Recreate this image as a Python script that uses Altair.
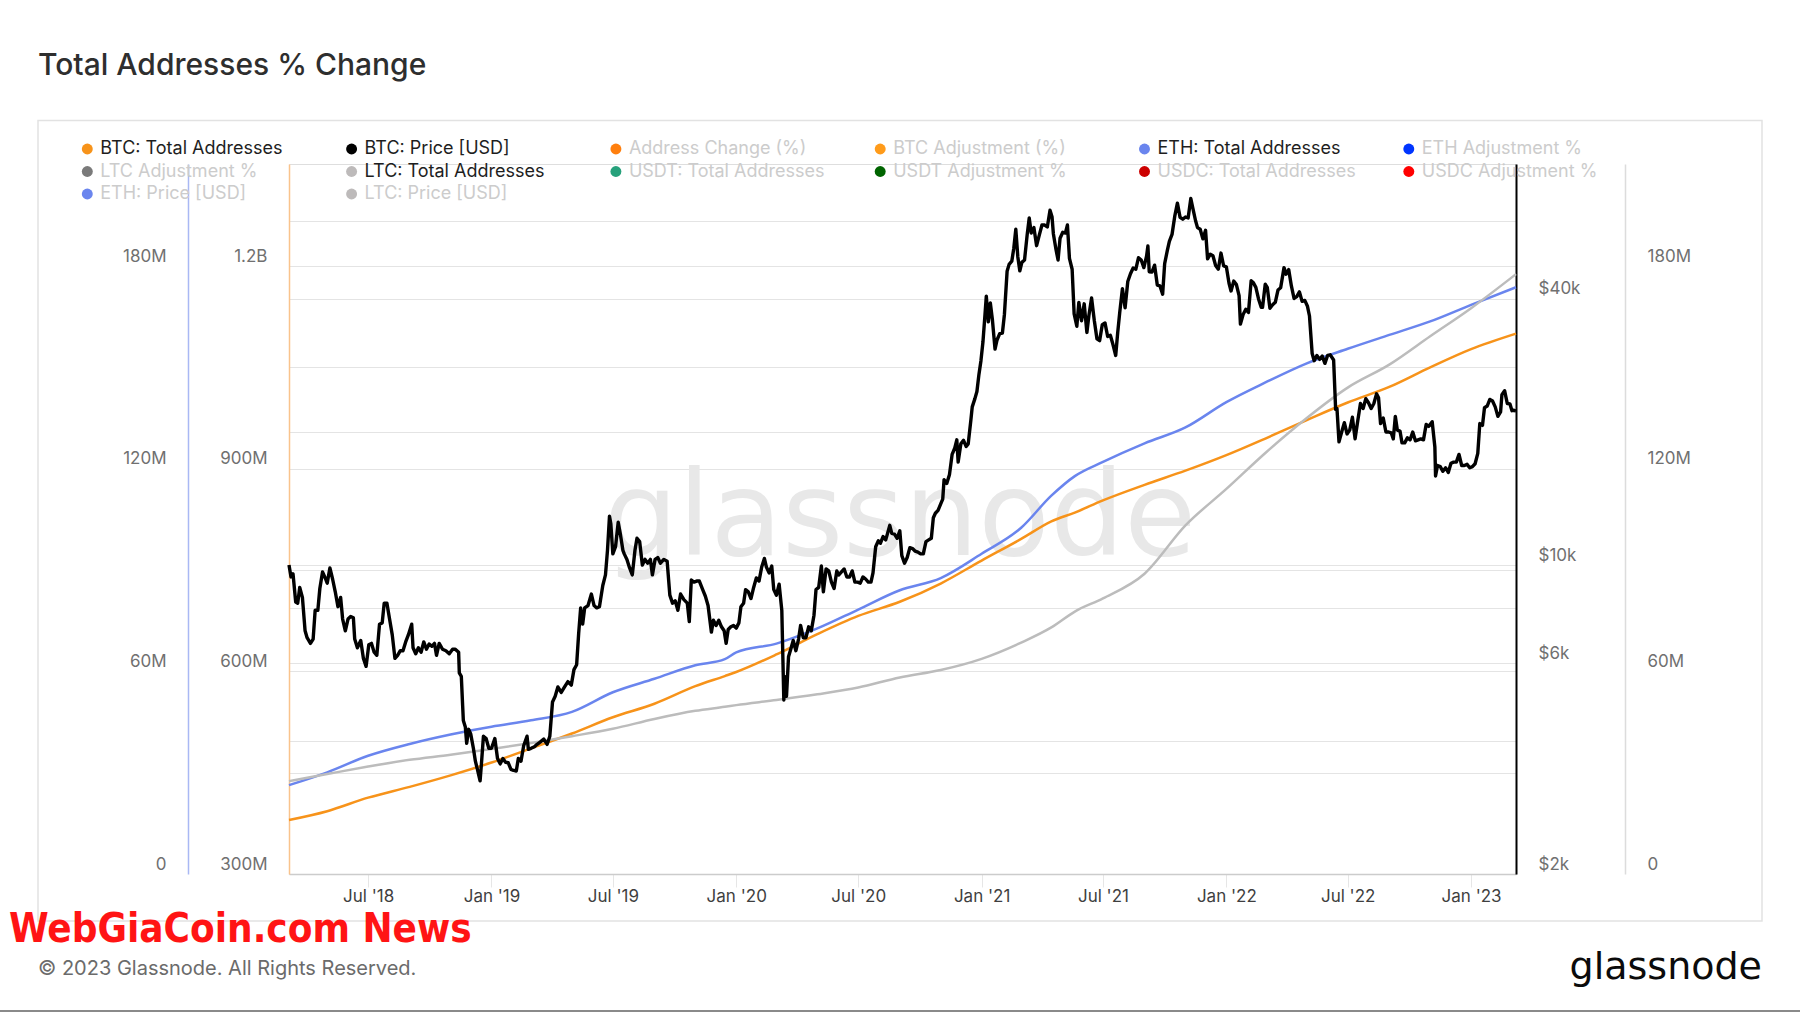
import json
import altair as alt
import pandas as pd

# ---------------- data ----------------
addr_dates = [
    "2018-03-05", "2018-05-01", "2018-07-01", "2018-09-01", "2018-11-01", "2019-01-01",
    "2019-03-01", "2019-05-01", "2019-07-01", "2019-09-01", "2019-11-01", "2019-12-15",
    "2020-01-01", "2020-03-01", "2020-05-01", "2020-07-01", "2020-09-01", "2020-11-01",
    "2021-01-01", "2021-03-01", "2021-04-15", "2021-05-20", "2021-07-01", "2021-09-01",
    "2021-11-01", "2022-01-01", "2022-03-01", "2022-05-01", "2022-07-01", "2022-09-01",
    "2022-11-01", "2023-01-01", "2023-03-09",
]
btc_total_addresses_m = [
    380, 393, 413, 429, 446, 465, 486, 508, 532, 552, 578, 593,
    599, 625, 655, 682, 703, 730, 764, 796, 822, 835, 853, 876,
    897, 920, 945, 972, 998, 1021, 1050, 1077, 1100,
]
eth_total_addresses_m = [
    26.3, 30.1, 35.0, 38.5, 41.3, 43.6, 45.5, 48.0, 53.8, 57.8, 61.8, 63.6,
    65.6, 68.2, 72.7, 78.3, 84.0, 87.6, 94.8, 102.5, 112.0, 117.8, 122.0, 127.5,
    132.2, 139.7, 145.6, 151.2, 155.5, 159.6, 163.6, 168.5, 173.7,
]
ltc_total_addresses_m = [
    27.5, 29.6, 31.8, 33.8, 35.3, 37.0, 38.8, 40.8, 43.0, 45.9, 48.3, 49.5,
    50.0, 51.5, 53.2, 55.2, 58.2, 60.4, 63.7, 68.5, 73.0, 77.7, 81.6, 88.9,
    103.2, 114.0, 124.8, 135.0, 144.0, 150.8, 159.2, 167.5, 177.6,
]

btc_price_points = [
    ("2018-03-05", 10000), ("2018-03-08", 9400), ("2018-03-11", 9550), ("2018-03-15", 8250),
    ("2018-03-18", 8200), ("2018-03-21", 8900), ("2018-03-25", 8450), ("2018-03-29", 7100),
    ("2018-04-01", 6850), ("2018-04-06", 6650), ("2018-04-10", 6800), ("2018-04-13", 7900),
    ("2018-04-17", 7900), ("2018-04-20", 8850), ("2018-04-24", 9650), ("2018-04-28", 9350),
    ("2018-05-01", 9100), ("2018-05-05", 9850), ("2018-05-09", 9300), ("2018-05-13", 8700),
    ("2018-05-17", 8050), ("2018-05-21", 8450), ("2018-05-24", 7550), ("2018-05-28", 7100),
    ("2018-06-01", 7550), ("2018-06-05", 7650), ("2018-06-09", 7600), ("2018-06-11", 6800),
    ("2018-06-15", 6500), ("2018-06-20", 6750), ("2018-06-24", 6150), ("2018-06-28", 5900),
    ("2018-07-02", 6600), ("2018-07-06", 6650), ("2018-07-10", 6350), ("2018-07-14", 6250),
    ("2018-07-18", 7350), ("2018-07-22", 7400), ("2018-07-25", 8200), ("2018-07-29", 8200),
    ("2018-08-02", 7550), ("2018-08-06", 6950), ("2018-08-10", 6150), ("2018-08-14", 6250),
    ("2018-08-18", 6400), ("2018-08-22", 6400), ("2018-08-26", 6700), ("2018-08-30", 6950),
    ("2018-09-04", 7350), ("2018-09-06", 6500), ("2018-09-10", 6300), ("2018-09-14", 6500),
    ("2018-09-18", 6350), ("2018-09-22", 6700), ("2018-09-26", 6450), ("2018-09-30", 6630),
    ("2018-10-04", 6550), ("2018-10-08", 6650), ("2018-10-11", 6250), ("2018-10-15", 6650),
    ("2018-10-20", 6450), ("2018-10-25", 6400), ("2018-10-30", 6300), ("2018-11-04", 6450),
    ("2018-11-08", 6450), ("2018-11-13", 6350), ("2018-11-14", 5700), ("2018-11-17", 5600),
    ("2018-11-19", 4800), ("2018-11-20", 4450), ("2018-11-23", 4300), ("2018-11-25", 3950),
    ("2018-11-28", 4250), ("2018-12-01", 4150), ("2018-12-05", 3850), ("2018-12-08", 3600),
    ("2018-12-11", 3450), ("2018-12-15", 3250), ("2018-12-17", 3550), ("2018-12-20", 4100),
    ("2018-12-24", 4050), ("2018-12-28", 3850), ("2019-01-01", 3850), ("2019-01-06", 4050),
    ("2019-01-10", 3650), ("2019-01-14", 3550), ("2019-01-18", 3650), ("2019-01-22", 3580),
    ("2019-01-26", 3570), ("2019-01-30", 3450), ("2019-02-03", 3430), ("2019-02-07", 3420),
    ("2019-02-10", 3650), ("2019-02-14", 3600), ("2019-02-18", 3900), ("2019-02-23", 4100),
    ("2019-02-25", 3830), ("2019-03-01", 3850), ("2019-03-06", 3880), ("2019-03-10", 3930),
    ("2019-03-15", 3980), ("2019-03-20", 4040), ("2019-03-25", 3930), ("2019-03-29", 4100),
    ("2019-04-02", 4900), ("2019-04-06", 5050), ("2019-04-10", 5300), ("2019-04-15", 5150),
    ("2019-04-20", 5300), ("2019-04-25", 5450), ("2019-04-30", 5350), ("2019-05-04", 5800),
    ("2019-05-08", 5950), ("2019-05-11", 7000), ("2019-05-14", 8000), ("2019-05-17", 7350),
    ("2019-05-20", 8000), ("2019-05-25", 8100), ("2019-05-30", 8600), ("2019-06-03", 8100),
    ("2019-06-07", 8000), ("2019-06-11", 8050), ("2019-06-16", 8990), ("2019-06-20", 9500),
    ("2019-06-23", 10800), ("2019-06-26", 12900), ("2019-06-28", 12400), ("2019-07-01", 10600),
    ("2019-07-05", 11000), ("2019-07-09", 12500), ("2019-07-12", 11800), ("2019-07-16", 10800),
    ("2019-07-18", 10600), ("2019-07-22", 10300), ("2019-07-26", 9850), ("2019-07-30", 9500),
    ("2019-08-03", 10800), ("2019-08-06", 11500), ("2019-08-10", 11300), ("2019-08-14", 10000),
    ("2019-08-18", 10300), ("2019-08-22", 10100), ("2019-08-26", 10300), ("2019-08-29", 9500),
    ("2019-09-02", 10300), ("2019-09-06", 10400), ("2019-09-10", 10100), ("2019-09-15", 10300),
    ("2019-09-20", 10200), ("2019-09-24", 8550), ("2019-09-28", 8200), ("2019-10-02", 8300),
    ("2019-10-06", 7900), ("2019-10-10", 8600), ("2019-10-15", 8350), ("2019-10-20", 8200),
    ("2019-10-23", 7450), ("2019-10-26", 9250), ("2019-10-30", 9150), ("2019-11-03", 9200),
    ("2019-11-07", 9200), ("2019-11-12", 8800), ("2019-11-16", 8500), ("2019-11-20", 8100),
    ("2019-11-25", 7050), ("2019-11-28", 7500), ("2019-12-02", 7300), ("2019-12-06", 7500),
    ("2019-12-10", 7250), ("2019-12-14", 7100), ("2019-12-17", 6650), ("2019-12-20", 7150),
    ("2019-12-24", 7250), ("2019-12-28", 7300), ("2020-01-01", 7200), ("2020-01-05", 7400),
    ("2020-01-08", 8050), ("2020-01-12", 8200), ("2020-01-15", 8800), ("2020-01-19", 8700),
    ("2020-01-23", 8400), ("2020-01-27", 8900), ("2020-01-31", 9350), ("2020-02-04", 9200),
    ("2020-02-08", 9900), ("2020-02-12", 10350), ("2020-02-15", 9900), ("2020-02-19", 9600),
    ("2020-02-23", 9950), ("2020-02-26", 8800), ("2020-03-01", 8550), ("2020-03-05", 9050),
    ("2020-03-09", 7900), ("2020-03-12", 4950), ("2020-03-13", 5600), ("2020-03-16", 5050),
    ("2020-03-19", 6200), ("2020-03-23", 6500), ("2020-03-26", 6750), ("2020-03-30", 6400),
    ("2020-04-03", 6800), ("2020-04-06", 7300), ("2020-04-10", 6850), ("2020-04-14", 6850),
    ("2020-04-18", 7250), ("2020-04-22", 7100), ("2020-04-26", 7700), ("2020-04-29", 8800),
    ("2020-05-03", 8900), ("2020-05-07", 9950), ("2020-05-10", 8700), ("2020-05-14", 9800),
    ("2020-05-18", 9700), ("2020-05-22", 9150), ("2020-05-26", 8850), ("2020-05-30", 9700),
    ("2020-06-02", 9500), ("2020-06-06", 9650), ("2020-06-10", 9800), ("2020-06-14", 9400),
    ("2020-06-18", 9400), ("2020-06-22", 9700), ("2020-06-26", 9150), ("2020-06-30", 9150),
    ("2020-07-04", 9100), ("2020-07-08", 9400), ("2020-07-12", 9300), ("2020-07-16", 9150),
    ("2020-07-20", 9150), ("2020-07-23", 9600), ("2020-07-27", 11000), ("2020-07-31", 11350),
    ("2020-08-03", 11200), ("2020-08-07", 11600), ("2020-08-11", 11400), ("2020-08-17", 12300),
    ("2020-08-20", 11800), ("2020-08-24", 11750), ("2020-08-28", 11500), ("2020-09-01", 11950),
    ("2020-09-04", 10500), ("2020-09-08", 10100), ("2020-09-12", 10400), ("2020-09-16", 10950),
    ("2020-09-20", 10900), ("2020-09-24", 10750), ("2020-09-28", 10700), ("2020-10-02", 10600),
    ("2020-10-06", 10600), ("2020-10-10", 11300), ("2020-10-14", 11400), ("2020-10-18", 11500),
    ("2020-10-21", 12800), ("2020-10-24", 13100), ("2020-10-28", 13300), ("2020-11-01", 13750),
    ("2020-11-04", 14100), ("2020-11-06", 15600), ("2020-11-10", 15300), ("2020-11-14", 16000),
    ("2020-11-18", 17800), ("2020-11-22", 18400), ("2020-11-25", 19200), ("2020-11-27", 17100),
    ("2020-12-01", 18800), ("2020-12-05", 19150), ("2020-12-09", 18550), ("2020-12-12", 18800),
    ("2020-12-16", 21300), ("2020-12-18", 22800), ("2020-12-22", 23800), ("2020-12-25", 24700),
    ("2020-12-28", 27000), ("2020-12-31", 29000), ("2021-01-03", 32000), ("2021-01-06", 36800),
    ("2021-01-08", 40600), ("2021-01-11", 35500), ("2021-01-14", 39200), ("2021-01-17", 36000),
    ("2021-01-21", 30800), ("2021-01-24", 32300), ("2021-01-28", 33400), ("2021-02-01", 33500),
    ("2021-02-04", 36900), ("2021-02-08", 46200), ("2021-02-11", 47900), ("2021-02-15", 48700),
    ("2021-02-18", 52100), ("2021-02-21", 57500), ("2021-02-24", 49800), ("2021-02-27", 46300),
    ("2021-03-02", 48400), ("2021-03-06", 49000), ("2021-03-10", 56000), ("2021-03-13", 61000),
    ("2021-03-16", 56400), ("2021-03-20", 58000), ("2021-03-24", 52800), ("2021-03-28", 55800),
    ("2021-04-01", 58800), ("2021-04-05", 58800), ("2021-04-09", 58200), ("2021-04-13", 63500),
    ("2021-04-16", 61400), ("2021-04-18", 56200), ("2021-04-22", 51700), ("2021-04-25", 49000),
    ("2021-04-28", 54900), ("2021-05-02", 56600), ("2021-05-06", 56400), ("2021-05-09", 58800),
    ("2021-05-12", 49400), ("2021-05-16", 46700), ("2021-05-19", 37000), ("2021-05-23", 34700),
    ("2021-05-26", 39300), ("2021-05-30", 35700), ("2021-06-03", 39000), ("2021-06-07", 33600),
    ("2021-06-10", 36700), ("2021-06-14", 40200), ("2021-06-18", 35800), ("2021-06-22", 32500),
    ("2021-06-26", 32200), ("2021-06-30", 35000), ("2021-07-04", 35300), ("2021-07-08", 32900),
    ("2021-07-12", 33100), ("2021-07-16", 31500), ("2021-07-20", 29800), ("2021-07-23", 33600),
    ("2021-07-26", 37300), ("2021-07-30", 42200), ("2021-08-03", 38200), ("2021-08-07", 43800),
    ("2021-08-11", 45600), ("2021-08-15", 47000), ("2021-08-19", 46700), ("2021-08-23", 49600),
    ("2021-08-27", 49000), ("2021-08-31", 47100), ("2021-09-04", 50000), ("2021-09-06", 52700),
    ("2021-09-08", 46100), ("2021-09-12", 46000), ("2021-09-16", 47700), ("2021-09-20", 43000),
    ("2021-09-24", 42800), ("2021-09-28", 41000), ("2021-10-01", 48100), ("2021-10-05", 51500),
    ("2021-10-08", 54000), ("2021-10-12", 56000), ("2021-10-16", 61500), ("2021-10-20", 65900),
    ("2021-10-24", 61200), ("2021-10-28", 60600), ("2021-11-01", 61300), ("2021-11-05", 61000),
    ("2021-11-09", 67500), ("2021-11-12", 64200), ("2021-11-16", 60200), ("2021-11-19", 58000),
    ("2021-11-23", 57500), ("2021-11-27", 54700), ("2021-12-01", 57200), ("2021-12-04", 49300),
    ("2021-12-08", 50500), ("2021-12-12", 50100), ("2021-12-16", 47600), ("2021-12-20", 46700),
    ("2021-12-24", 50800), ("2021-12-28", 47500), ("2022-01-01", 47300), ("2022-01-05", 43400),
    ("2022-01-08", 41700), ("2022-01-12", 43900), ("2022-01-16", 43100), ("2022-01-20", 40700),
    ("2022-01-22", 35100), ("2022-01-26", 36900), ("2022-01-30", 37900), ("2022-02-03", 37300),
    ("2022-02-07", 44000), ("2022-02-10", 43600), ("2022-02-14", 42500), ("2022-02-18", 40000),
    ("2022-02-22", 38300), ("2022-02-24", 38300), ("2022-02-28", 43200), ("2022-03-03", 42500),
    ("2022-03-07", 38100), ("2022-03-11", 38800), ("2022-03-15", 39300), ("2022-03-19", 41900),
    ("2022-03-23", 42400), ("2022-03-28", 47100), ("2022-03-31", 45500), ("2022-04-04", 46600),
    ("2022-04-08", 42800), ("2022-04-12", 40100), ("2022-04-16", 40500), ("2022-04-20", 41500),
    ("2022-04-24", 39500), ("2022-04-28", 39700), ("2022-05-02", 38500), ("2022-05-05", 36600),
    ("2022-05-09", 30100), ("2022-05-12", 29000), ("2022-05-16", 29800), ("2022-05-20", 29200),
    ("2022-05-24", 29700), ("2022-05-28", 28600), ("2022-06-01", 29800), ("2022-06-05", 29900),
    ("2022-06-10", 29100), ("2022-06-13", 22500), ("2022-06-15", 22600), ("2022-06-18", 19000),
    ("2022-06-22", 20000), ("2022-06-26", 21000), ("2022-06-30", 19800), ("2022-07-04", 20200),
    ("2022-07-08", 21600), ("2022-07-12", 19300), ("2022-07-16", 21200), ("2022-07-20", 23200),
    ("2022-07-24", 22600), ("2022-07-28", 23800), ("2022-08-01", 23300), ("2022-08-05", 22600),
    ("2022-08-09", 23200), ("2022-08-13", 24400), ("2022-08-16", 23900), ("2022-08-19", 20900),
    ("2022-08-23", 21500), ("2022-08-27", 20000), ("2022-08-31", 20000), ("2022-09-04", 19900),
    ("2022-09-07", 19300), ("2022-09-10", 21700), ("2022-09-13", 20200), ("2022-09-17", 20100),
    ("2022-09-20", 18900), ("2022-09-24", 18900), ("2022-09-28", 19400), ("2022-10-02", 19200),
    ("2022-10-06", 20000), ("2022-10-10", 19100), ("2022-10-14", 19200), ("2022-10-18", 19300),
    ("2022-10-22", 19200), ("2022-10-26", 20800), ("2022-10-30", 20600), ("2022-11-04", 21100),
    ("2022-11-08", 18500), ("2022-11-09", 15900), ("2022-11-12", 16800), ("2022-11-16", 16700),
    ("2022-11-20", 16300), ("2022-11-24", 16600), ("2022-11-28", 16200), ("2022-12-02", 17000),
    ("2022-12-06", 17100), ("2022-12-10", 17100), ("2022-12-14", 17800), ("2022-12-18", 16800),
    ("2022-12-22", 16800), ("2022-12-26", 16900), ("2022-12-30", 16600), ("2023-01-03", 16700),
    ("2023-01-07", 16950), ("2023-01-11", 17900), ("2023-01-14", 20900), ("2023-01-18", 20700),
    ("2023-01-21", 22700), ("2023-01-25", 22900), ("2023-01-29", 23700), ("2023-02-02", 23500),
    ("2023-02-06", 22800), ("2023-02-10", 21700), ("2023-02-14", 22200), ("2023-02-16", 24300),
    ("2023-02-20", 24800), ("2023-02-24", 23200), ("2023-02-28", 23150), ("2023-03-03", 22350),
    ("2023-03-06", 22400), ("2023-03-09", 22300),
]

legend_labels = [
    "BTC: Total Addresses", "BTC: Price [USD]", "Address Change (%)", "BTC Adjustment (%)",
    "ETH: Total Addresses", "ETH Adjustment %",
    "LTC Adjustment %", "LTC: Total Addresses", "USDT: Total Addresses", "USDT Adjustment %",
    "USDC: Total Addresses", "USDC Adjustment %",
    "ETH: Price [USD]", "LTC: Price [USD]",
]
legend_colors = [
    "#f7931a", "#000000", "#ff7f0e", "#ff9b1a", "#6a85ee", "#0035ff",
    "#7a7a7a", "#bdbaba", "#26a17b", "#006400", "#cc0000", "#ff0000",
    "#6a85ee", "#bdbaba",
]
legend_active = [True, True, False, False, True, False,
                 False, True, False, False, False, False,
                 False, False]

x_domain_dates = ["2018-03-05", "2023-03-09"]
x_tick_dates = ["2018-07-01", "2019-01-01", "2019-07-01", "2020-01-01", "2020-07-01",
                "2021-01-01", "2021-07-01", "2022-01-01", "2022-07-01", "2023-01-01"]
x_tick_labels = ["Jul '18", "Jan '19", "Jul '19", "Jan '20", "Jul '20",
                 "Jan '21", "Jul '21", "Jan '22", "Jul '22", "Jan '23"]

btc_addr_domain = [300, 1351]
btc_addr_ticks = [300, 450, 600, 750, 900, 1050, 1200]
btc_addr_tick_labels = ["300M", "", "600M", "", "900M", "", "1.2B"]

small_addr_domain = [0, 210.2]
small_addr_ticks = [0, 60, 120, 180]
small_addr_tick_labels = ["0", "60M", "120M", "180M"]

price_domain = [2000, 80800]
price_ticks = [2000, 4000, 6000, 8000, 10000, 20000, 40000, 60000]
price_tick_labels = ["$2k", "", "$6k", "", "$10k", "", "$40k", ""]

# ---------------- helpers ----------------
def ms(d):
    return int(pd.Timestamp(d, tz="UTC").value // 10**6)


def label_expr(values, labels, key="datum.value"):
    parts = [f"{key} == {v} ? {json.dumps(l)}" for v, l in zip(values, labels)]
    return " : ".join(parts) + " : ''"


FONT = "Inter"
W, H = 1227, 710
PAD_L, PAD_T = 289, 164

addr_df = pd.DataFrame({
    "date": addr_dates,
    "btc": btc_total_addresses_m,
    "eth": eth_total_addresses_m,
    "ltc": ltc_total_addresses_m,
})
price_df = pd.DataFrame(btc_price_points, columns=["date", "price"])

x_ticks_ms = [ms(d) for d in x_tick_dates]
x_axis = alt.Axis(
    values=x_ticks_ms,
    labelExpr=label_expr(x_ticks_ms, x_tick_labels, key="time(datum.value)"),
    title=None, grid=False, ticks=True, tickSize=13, tickColor="#e6e6e6", tickWidth=1,
    domain=True, domainColor="#cccccc", domainWidth=1.5,
    labelPadding=1, labelFontSize=17, labelColor="#3f3f3f", labelFont=FONT,
    labelFlush=False, labelOverlap=False, labelBaseline="top",
)
x_enc = alt.X("date:T", scale=alt.Scale(domain=[ms(d) for d in x_domain_dates]), axis=x_axis)


def y_axis(orient, offset, values, labels, grid, domain_color, domain_width):
    return alt.Axis(
        orient=orient, offset=offset, values=values, labelExpr=label_expr(values, labels),
        title=None, grid=grid, gridColor="#e4e4e4", gridWidth=1,
        ticks=False, tickSize=0, domain=True, domainColor=domain_color, domainWidth=domain_width,
        labelPadding=22, labelOffset=-10, labelFontSize=17, labelColor="#707070", labelFont=FONT,
        labelFlush=False, labelOverlap=False, labelBound=False,
    )


btc_addr_line = alt.Chart(addr_df).mark_line(
    color="#f7931a", strokeWidth=2.5, interpolate="monotone"
).encode(
    x=x_enc,
    y=alt.Y("btc:Q", scale=alt.Scale(domain=btc_addr_domain, nice=False, zero=False),
            axis=y_axis("left", 0, btc_addr_ticks, btc_addr_tick_labels, True, "#f9c38c", 1.5)),
)

eth_addr_line = alt.Chart(addr_df).mark_line(
    color="#6a85ee", strokeWidth=2.5, interpolate="monotone"
).encode(
    x=x_enc,
    y=alt.Y("eth:Q", scale=alt.Scale(domain=small_addr_domain, nice=False, zero=False),
            axis=y_axis("left", 101, small_addr_ticks, small_addr_tick_labels, False, "#a9b8f4", 1.5)),
)

ltc_addr_line = alt.Chart(addr_df).mark_line(
    color="#bcbcbc", strokeWidth=2.5, interpolate="monotone"
).encode(
    x=x_enc,
    y=alt.Y("ltc:Q", scale=alt.Scale(domain=small_addr_domain, nice=False, zero=False),
            axis=y_axis("right", 109, small_addr_ticks, small_addr_tick_labels, False, "#dcdcdc", 1.5)),
)

price_line = alt.Chart(price_df).mark_line(
    color="#000000", strokeWidth=3.4, strokeJoin="round"
).encode(
    x=x_enc,
    y=alt.Y("price:Q", scale=alt.Scale(type="log", domain=price_domain, nice=False),
            axis=y_axis("right", 0, price_ticks, price_tick_labels, True, "#000000", 2)),
)

one = pd.DataFrame({"k": [0]})

# outer panel frame
frame = alt.Chart(one).mark_rect(fill="transparent", stroke="#e2e2e2", strokeWidth=1.5).encode(
    x=alt.value(38 - PAD_L), x2=alt.value(1762 - PAD_L),
    y=alt.value(120.5 - PAD_T), y2=alt.value(921 - PAD_T),
)

# background watermark
watermark = alt.Chart(pd.DataFrame({"t": ["glassnode"]})).mark_text(
    font="DejaVu Sans", fontSize=117, color="#e8e8e8", align="center", baseline="alphabetic"
).encode(x=alt.value(900 - PAD_L), y=alt.value(555 - PAD_T), text="t:N")

# legend
legend_layers = []
for i, (lab, col, act) in enumerate(zip(legend_labels, legend_colors, legend_active)):
    c, r = i % 6, i // 6
    cx = 87.3 + 264.3 * c - PAD_L
    cy = 149 + 22.5 * r - PAD_T
    ldf = pd.DataFrame({"label": [lab]})
    legend_layers.append(
        alt.Chart(ldf).mark_circle(size=120, opacity=1, color=col).encode(
            x=alt.value(cx), y=alt.value(cy))
    )
    legend_layers.append(
        alt.Chart(ldf).mark_text(
            align="left", baseline="middle", font=FONT, fontSize=18,
            color="#1e1e1e" if act else "#cccccc",
        ).encode(x=alt.value(cx + 13), y=alt.value(cy), text="label:N")
    )

title = alt.Chart(pd.DataFrame({"t": ["Total Addresses % Change"]})).mark_text(
    font=FONT, fontSize=30, fontWeight=500, color="#2e2e2e", align="left", baseline="alphabetic"
).encode(x=alt.value(38 - PAD_L), y=alt.value(75 - PAD_T), text="t:N")

news = alt.Chart(pd.DataFrame({"t": ["WebGiaCoin.com News"]})).mark_text(
    font="Liberation Sans Narrow, DejaVu Sans Condensed, sans-serif", fontSize=40, fontWeight="bold",
    color="#ff1414", align="left", baseline="alphabetic"
).encode(x=alt.value(9 - PAD_L), y=alt.value(942 - PAD_T), text="t:N")

footer = alt.Chart(pd.DataFrame({"t": ["© 2023 Glassnode. All Rights Reserved."]})).mark_text(
    font=FONT, fontSize=20, color="#6b6b6b", align="left", baseline="alphabetic"
).encode(x=alt.value(38 - PAD_L), y=alt.value(975 - PAD_T), text="t:N")

logo = alt.Chart(pd.DataFrame({"t": ["glassnode"]})).mark_text(
    font="DejaVu Sans", fontSize=38, color="#0b0b0b", align="right", baseline="alphabetic"
).encode(x=alt.value(1762 - PAD_L), y=alt.value(979 - PAD_T), text="t:N")

bottom_rule = alt.Chart(one).mark_rule(color="#8a8a8a", strokeWidth=2).encode(
    x=alt.value(-PAD_L), x2=alt.value(1800 - PAD_L), y=alt.value(1011 - PAD_T)
)

chart = alt.layer(
    frame, watermark,
    btc_addr_line, eth_addr_line, ltc_addr_line, price_line,
    *legend_layers, title, news, footer, logo, bottom_rule,
).resolve_scale(
    y="independent"
).properties(
    width=W, height=H,
    padding={"left": PAD_L, "top": PAD_T, "right": 1800 - PAD_L - W, "bottom": 1013 - PAD_T - H},
    autosize=alt.AutoSizeParams(type="none"),
).configure(
    background="#ffffff",
).configure_view(
    stroke="#dedede", strokeWidth=1,
)

chart.save("out.html", embed_options={"renderer": "svg", "actions": False})
